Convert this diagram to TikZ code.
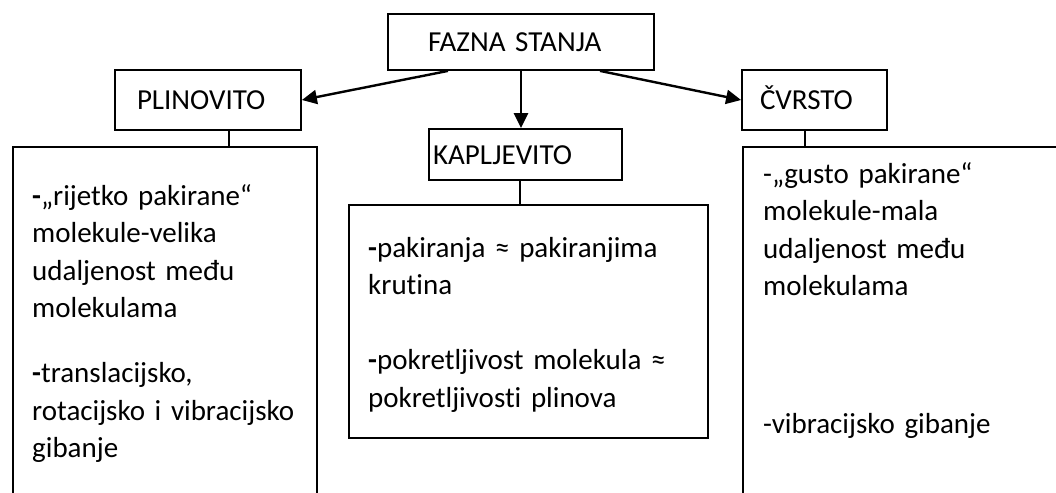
\documentclass[tikz,border=0pt]{standalone}
\usepackage{fontspec}
\setmainfont{Carlito}[Ligatures={TeX,NoCommon}]
\usetikzlibrary{arrows.meta}

\begin{document}
\begin{tikzpicture}[x=1pt,y=-1pt,
    stanje/.style={draw,line width=1.8pt,font=\fontsize{29}{37.5}\selectfont,
      inner ysep=0pt,text height=19pt,text depth=0pt,align=left},
    okvir/.style={draw,line width=1.8pt,anchor=north west},
    opis/.style={font=\fontsize{29}{37.5}\selectfont,text width=330pt,
      align=left,inner sep=0pt,anchor=base west},
    veza/.style={line width=1.3pt},
    strelica/.style={line width=2.4pt,-{Triangle[length=15pt,width=14pt]}}]

  \useasboundingbox (0,0) rectangle (1056,492);
  \clip (0,0) rectangle (1056,492);

  \node[stanje,minimum height=56pt,inner xsep=40pt,text width=186pt] (fazna) at (521,42) {FAZNA STANJA};
  \node[stanje,minimum height=60pt,inner xsep=22pt,text width=142pt] (plin) at (208,100) {PLINOVITO};
  \node[stanje,minimum height=51pt,inner xsep=4pt,text width=185pt] (kap) at (525.5,154.5) {KAPLJEVITO};
  \node[stanje,minimum height=60pt,inner xsep=18pt,text width=109pt] (cvrsto) at (814.5,100) {ČVRSTO};

  \node[okvir,minimum width=304pt,minimum height=400pt] (plinokvir) at (12,146) {};
  \node[okvir,minimum width=359pt,minimum height=233pt] (kapokvir) at (348,204) {};
  \node[okvir,minimum width=400pt,minimum height=400pt] (cvrstookvir) at (742,146) {};

  \node[opis] (plintekst) at (32,205) {\textbf{-}„rijetko pakirane“\\molekule-velika\\udaljenost među\\molekulama\\[27.5pt]\textbf{-}translacijsko,\\rotacijsko i vibracijsko\\gibanje};
  \node[opis] (kaptekst) at (368,257) {\textbf{-}pakiranja ≈ pakiranjima\\krutina\\[37.5pt]\textbf{-}pokretljivost molekula ≈\\pokretljivosti plinova};
  \node[opis] (cvrstotekst) at (763,183) {-„gusto pakirane“\\molekule-mala\\udaljenost među\\molekulama\\[100pt]-vibracijsko gibanje};

  \draw[strelica] ([xshift=-73pt]fazna.south) -- (plin.east);
  \draw[strelica] (fazna.south) -- (fazna.south |- kap.north);
  \draw[strelica] ([xshift=79pt]fazna.south) -- (cvrsto.west);

  \foreach \a/\b/\d in {plin/plinokvir/21,kap/kapokvir/-5.5,cvrsto/cvrstookvir/-9.5}
    \draw[veza] ([xshift=\d pt]\a.south) -- ([xshift=\d pt]\a.south |- \b.north);

\end{tikzpicture}
\end{document}
